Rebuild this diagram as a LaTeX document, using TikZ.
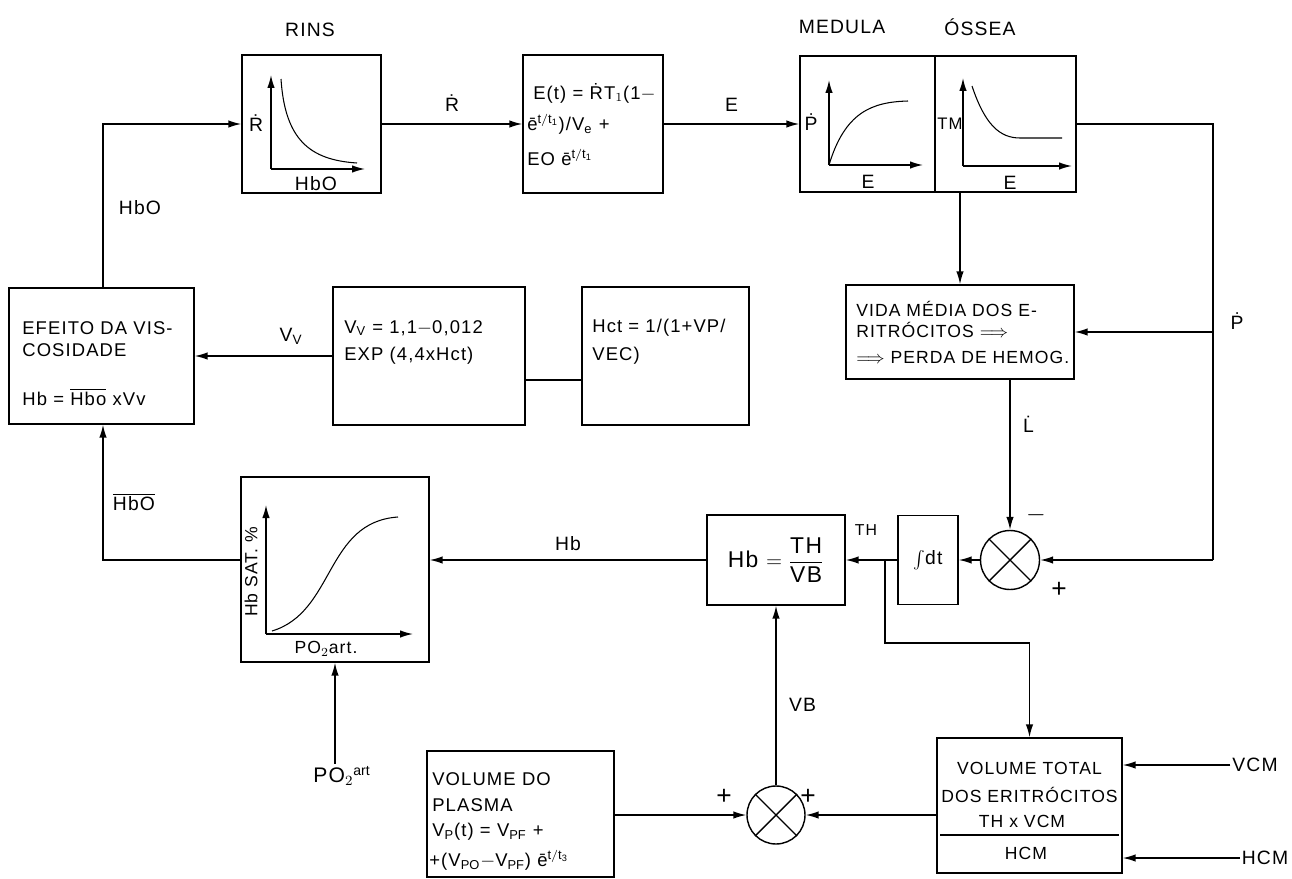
\documentclass[tikz,border=0pt]{standalone}
\usepackage{fontspec}
\setmainfont[LetterSpace=6]{Liberation Sans}
\usetikzlibrary{arrows.meta,positioning,calc}

\begin{document}
\begin{tikzpicture}[
				x=0.02cm,y=-0.02cm,
				>={Latex[length=2.6mm,width=1.5mm]},
				blk/.style={
					draw,
					thick,
					rectangle,
					inner sep=0pt
				},
				lbl/.style={
					font=\fontsize{11}{13}\selectfont,
					inner sep=1pt
				},
				txt/.style={
					font=\fontsize{10.5}{13}\selectfont,
					anchor=west,
					inner sep=0pt
				},
				sumj/.style={
					draw,
					thick,
					circle,
					minimum size=1.18cm,
					inner sep=0pt
				},
				conn/.style={thick},
				curve/.style={semithick}
				]
				
				\useasboundingbox (0,0) rectangle (1292,879);
				
				% -------------------------------------------------------------------------
				% Upper row: rins, equation, medula
				% -------------------------------------------------------------------------
				
				\node[blk,minimum width=2.78cm,minimum height=2.76cm] (rins) at (311.5,124) {};
				\node[lbl] (rinsT) at (310,30) {RINS};
				
				\node[blk,minimum width=2.8cm,minimum height=2.76cm] (eq) at (593,124) {};
				
				\node[blk,minimum width=2.7cm,minimum height=2.72cm] (medP) at (867.5,124) {};
				\node[blk,minimum width=2.82cm,minimum height=2.72cm] (medT) at (1005.5,124) {};
				\node[lbl] (medT1) at (842,27) {MEDULA};
				\node[lbl] (medT2) at (980,27) {ÓSSEA};
				
				% -------------------------------------------------------------------------
				% Middle row
				% -------------------------------------------------------------------------
				
				\node[blk,minimum width=3.7cm,minimum height=2.72cm] (visc) at (101.5,356) {};
				\node[blk,minimum width=3.84cm,minimum height=2.76cm] (vr) at (429,356) {};
				\node[blk,minimum width=3.34cm,minimum height=2.76cm] (hct) at (665.5,356) {};
				\node[blk,minimum width=4.56cm,minimum height=1.88cm] (vida) at (960,332) {};
				
				% -------------------------------------------------------------------------
				% Lower row
				% -------------------------------------------------------------------------
				
				\node[blk,minimum width=3.76cm,minimum height=3.7cm] (sat) at (335,569.5) {};
				\node[blk,minimum width=2.76cm,minimum height=1.8cm] (hbox) at (776,560) {};
				\node[blk,minimum width=1.2cm,minimum height=1.78cm] (intg) at (928,560) {};
				\node[sumj] (sumA) at (1010,560) {};
				
				\node[blk,minimum width=3.74cm,minimum height=2.52cm] (plasma) at (520.5,814) {};
				\node[sumj,minimum size=1.16cm] (sumB) at (776,815) {};
				\node[blk,minimum width=3.7cm,minimum height=2.7cm] (vol) at (1029.5,805.5) {};
				
				% crosses in the summing points
				\draw[conn] (sumA.north west) -- (sumA.south east);
				\draw[conn] (sumA.north east) -- (sumA.south west);
				\draw[conn] (sumB.north west) -- (sumB.south east);
				\draw[conn] (sumB.north east) -- (sumB.south west);
				
				% -------------------------------------------------------------------------
				% Small graphs inside the boxes
				% -------------------------------------------------------------------------
				
				\draw[conn,->] (271,169) -- (271,75);
				\draw[conn,->] (271,169) -- (365,169);
				\draw[curve] (281,79) .. controls (285,140) and (310,160) .. (357,163);
				\node[lbl] (rinsY) at (256,123) {\.R};
				\node[lbl] (rinsX) at (316,184) {HbO};
				
				\draw[conn,->] (829,165) -- (829,80);
				\draw[conn,->] (829,165) -- (923,165);
				\draw[curve] (829,165) .. controls (845,112) and (872,102) .. (908,101);
				\node[lbl] (medPY) at (811,122) {\.P};
				\node[lbl] (medPX) at (868,182) {E};
				
				\draw[conn,->] (963,166) -- (963,78);
				\draw[conn,->] (963,166) -- (1072,166);
				\draw[curve] (972,86) .. controls (985,125) and (1000,138) .. (1020,138) -- (1062,138);
				\node[lbl,font=\fontsize{9.5}{11}\selectfont,inner sep=0pt] (medTY) at (950,124) {TM};
				\node[lbl] (medTX) at (1010,183) {E};
				
				\draw[conn,->] (266,634) -- (266,505);
				\draw[conn,->] (266,634) -- (413,634);
				\draw[curve] (272,631) .. controls (335,612) and (325,522) .. (398,517);
				\node[lbl,rotate=90,font=\fontsize{10}{12}\selectfont] (satY) at (251,572) {Hb SAT. \%};
				\node[lbl,font=\fontsize{10}{12}\selectfont] (satX) at (326,649) {PO$_2$art.};
				
				% -------------------------------------------------------------------------
				% Texts inside the boxes
				% -------------------------------------------------------------------------
				
				\node[txt] (eq1) at (533,93) {E(t) = \.RT$_1$(1$-$};
				\node[txt] (eq2) at (527,124) {ē$^{\mathrm{t/t_1}}$)/V$_\mathrm{e}$ +};
				\node[txt] (eq3) at (527,157) {EO ē$^{\mathrm{t/t_1}}$};
				
				\node[txt] (visc1) at (22,328) {EFEITO DA VIS-};
				\node[txt] (visc2) at (22,350) {COSIDADE};
				\node[txt] (visc3) at (22,397) {Hb = $\overline{\mbox{Hbo}}$ xVv};
				
				\node[txt] (vr1) at (344,328) {V$_\mathrm{V}$ = 1,1$-$0,012};
				\node[txt] (vr2) at (344,356) {EXP (4,4xHct)};
				
				\node[txt] (hct1) at (592,328) {Hct = 1/(1+VP/};
				\node[txt] (hct2) at (592,356) {VEC)};
				
				\node[txt,font=\fontsize{10}{12}\selectfont] (vida1) at (856,309) {VIDA MÉDIA DOS E-};
				\node[txt,font=\fontsize{10}{12}\selectfont] (vida2) at (856,330) {RITRÓCITOS $\Longrightarrow$};
				\node[txt,font=\fontsize{10}{12}\selectfont] (vida3) at (856,357) {$\Longrightarrow$ PERDA DE HEMOG.};
				
				\node[font=\fontsize{13}{15}\selectfont] (hboxT) at (776,560) {Hb $=\displaystyle\frac{\mbox{TH}}{\mbox{VB}}$};
				\node[lbl] (intgT) at (928,560) {$\int$dt};
				
				\node[txt] (pl1) at (432,779) {VOLUME DO};
				\node[txt] (pl2) at (432,805) {PLASMA};
				\node[txt] (pl3) at (432,832) {V$_\mathrm{P}$(t) = V$_\mathrm{PF}$ +};
				\node[txt] (pl4) at (429,860) {+(V$_\mathrm{PO}$$-$V$_\mathrm{PF}$) ē$^{\mathrm{t/t_3}}$};
				
				\node[lbl,font=\fontsize{10}{12}\selectfont] (vol1) at (1029.5,768) {VOLUME TOTAL};
				\node[lbl,font=\fontsize{10}{12}\selectfont] (vol2) at (1029.5,795) {DOS ERITRÓCITOS};
				\node[lbl,font=\fontsize{10}{12}\selectfont] (vol3) at (1022,821) {TH x VCM};
				\node[lbl,font=\fontsize{10}{12}\selectfont] (vol4) at (1026,853) {HCM};
				\coordinate (volrule) at (0,835);
				\draw[conn] ($(vol.west |- volrule)+(4,0)$) -- ($(vol.east |- volrule)+(-4,0)$);
				
				% -------------------------------------------------------------------------
				% Connections
				% -------------------------------------------------------------------------
				
				\draw[conn,->] (rins.east) -- node[lbl,above=6pt] (rdot) {\.R} (eq.west);
				\draw[conn,->] (eq.east) -- node[lbl,above=6pt] (eLbl) {E} (medP.west);
				
				\coordinate (fbR) at (1213,124);
				\coordinate (fbP) at (1213,332);
				\coordinate (fbS) at (1213,560);
				\draw[conn] (medT.east) -- (fbR) -- (fbS);
				\draw[conn,->] (fbS) -- (sumA.east);
				\draw[conn,->] (fbP) -- (vida.east);
				\node[lbl] (pdot) at (1237,321) {\.P};
				
				\draw[conn,->] (vida.north |- medT.south) -- (vida.north);
				\draw[conn,->] (vida.south -| sumA.north) -- node[lbl,pos=0.3,right=6pt] (ldot) {\.L} (sumA.north);
				\node[lbl,font=\fontsize{15}{15}\selectfont] (minus) at (1036,515) {$-$};
				\node[lbl,font=\fontsize{15}{15}\selectfont] (plusA) at (1059,590) {+};
				
				\draw[conn,->] (sumA.west) -- (intg.east);
				\draw[conn,->] (intg.west) -- (hbox.east);
				\node[lbl,font=\fontsize{9}{11}\selectfont] (thLbl) at (866,530) {TH};
				
				\coordinate (brTH) at (885,560);
				\coordinate (brTurn) at (885,643);
				\draw[conn,->] (brTH) -- (brTurn) -| (vol.north);
				
				\draw[conn,->] (hbox.west) -- node[lbl,above=4pt] (hbLbl) {Hb} (sat.east |- hbox.west);
				
				\coordinate (hbBar) at (103,560);
				\draw[conn,->] (sat.west |- hbBar) -- (hbBar) -- (visc.south -| hbBar);
				\node[lbl] (hbBarT) at (134,502) {$\overline{\mbox{HbO}}$};
				
				\coordinate (hbTop) at (103,124);
				\draw[conn,->] (visc.north -| hbTop) -- (hbTop) -- (rins.west);
				\node[lbl] (hbOT) at (140,208) {HbO};
				
				\draw[conn,->] (vr.west) -- node[lbl,above=5pt,pos=0.3] (vvLbl) {V$_\mathrm{V}$} (visc.east);
				\coordinate (hctLink) at (0,380);
				\draw[conn] (hct.west |- hctLink) -- (vr.east |- hctLink);
				
				\node[lbl,font=\fontsize{12}{14}\selectfont] (po2) at (342,776) {PO$_2$$^{\mathrm{art}}$};
				\draw[conn,->] (po2.north -| sat.south) -- (sat.south);
				
				\draw[conn,->] (sumB.north) -- node[lbl,right=6pt,pos=0.45] (vbLbl) {VB} (hbox.south);
				\draw[conn,->] (plasma.east |- sumB.west) -- (sumB.west);
				\draw[conn,->] (vol.west |- sumB.east) -- (sumB.east);
				\node[lbl,font=\fontsize{15}{15}\selectfont] (plusB1) at (724,797) {+};
				\node[lbl,font=\fontsize{15}{15}\selectfont] (plusB2) at (808,797) {+};
				
				\node[lbl] (vcm) at (1255,765) {VCM};
				\node[lbl] (hcm) at (1265,858) {HCM};
				\draw[conn,->] (vcm.west) -- (vol.east |- vcm.west);
				\draw[conn,->] (hcm.west) -- (vol.east |- hcm.west);
				
		\end{tikzpicture}
\end{document}
